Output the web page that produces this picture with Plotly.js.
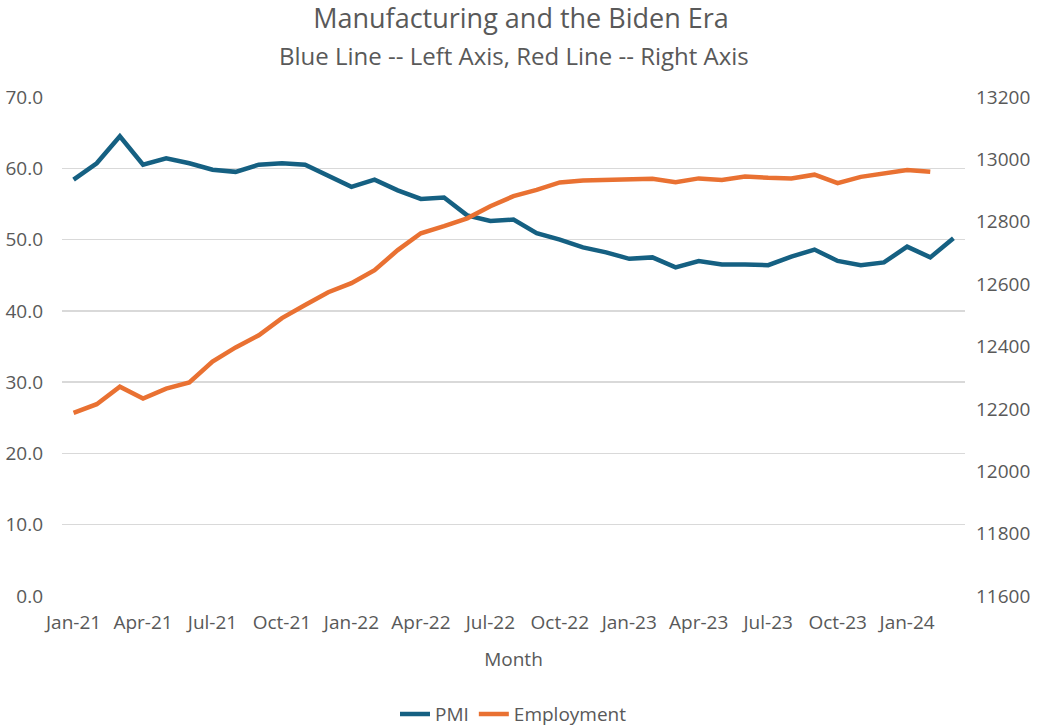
<!DOCTYPE html>
<html>
<head>
<meta charset="utf-8">
<script src="https://cdn.plot.ly/plotly-3.0.1.min.js"></script>
<style>
  html, body { margin: 0; padding: 0; background: #fff; }
  #chart { width: 1042px; height: 728px; }
</style>
</head>
<body>
<div id="chart"></div>
<script>
const months = [
  'Jan-21','Feb-21','Mar-21','Apr-21','May-21','Jun-21','Jul-21','Aug-21','Sep-21','Oct-21','Nov-21','Dec-21',
  'Jan-22','Feb-22','Mar-22','Apr-22','May-22','Jun-22','Jul-22','Aug-22','Sep-22','Oct-22','Nov-22','Dec-22',
  'Jan-23','Feb-23','Mar-23','Apr-23','May-23','Jun-23','Jul-23','Aug-23','Sep-23','Oct-23','Nov-23','Dec-23',
  'Jan-24','Feb-24','Mar-24'
];

// ISM manufacturing PMI, left axis
const pmi = [
  58.4, 60.7, 64.5, 60.5, 61.4, 60.7, 59.8, 59.5, 60.5, 60.7, 60.5, 59.0,
  57.4, 58.4, 56.9, 55.7, 55.9, 53.4, 52.6, 52.8, 50.9, 50.0, 48.9, 48.2,
  47.3, 47.5, 46.1, 47.0, 46.5, 46.5, 46.4, 47.6, 48.6, 47.0, 46.4, 46.8,
  49.0, 47.5, 50.2
];

// manufacturing employment (thousands), right axis - no Mar-24 value
const employment = [
  12187, 12215, 12271, 12233, 12265, 12285, 12352, 12397, 12436, 12491, 12533, 12574,
  12603, 12645, 12709, 12763, 12786, 12811, 12850, 12882, 12902, 12926, 12932, 12934,
  12938, 12938, 12927, 12939, 12934, 12945, 12941, 12939, 12951, 12924, 12944, 12955,
  12966, 12960
];

const textGray = '#595959';
const font = 'Open Sans, Noto Sans, sans-serif';

var pmiTrace = {
  x: months,
  y: pmi,
  name: 'PMI',
  mode: 'lines',
  type: 'scatter',
  line: { color: '#156082', width: 4.5 },
  yaxis: 'y'
};

var empTrace = {
  x: months.slice(0, employment.length),
  y: employment,
  name: 'Employment',
  mode: 'lines',
  type: 'scatter',
  line: { color: '#E97132', width: 4.5 },
  yaxis: 'y2'
};

var layout = {
  width: 1042,
  height: 728,
  margin: { l: 62, r: 77, t: 97, b: 132 },
  paper_bgcolor: '#ffffff',
  plot_bgcolor: '#ffffff',
  font: { family: font, color: textGray, size: 19 },
  title: {
    text: 'Manufacturing and the Biden Era',
    font: { family: font, size: 27, color: textGray },
    x: 0.5,
    xanchor: 'center',
    yref: 'container',
    y: 0.974,
    yanchor: 'middle'
  },
  annotations: [{
    text: 'Blue Line -- Left Axis, Red Line -- Right Axis',
    font: { family: font, size: 24, color: textGray },
    xref: 'paper', yref: 'paper',
    x: 0.5, xanchor: 'center',
    y: 1.084, yanchor: 'middle',
    showarrow: false
  }],
  xaxis: {
    type: 'category',
    range: [-0.5, 38.5],
    tickmode: 'linear',
    tick0: 0,
    dtick: 3,
    automargin: false,
    showgrid: false,
    showline: false,
    zeroline: false,
    ticks: '',
    ticklabelstandoff: 13,
    tickfont: { size: 19, color: textGray },
    title: { text: 'Month', font: { size: 19, color: textGray }, standoff: 18 }
  },
  yaxis: {
    range: [0, 70],
    dtick: 10,
    tickformat: '.1f',
    automargin: false,
    showgrid: true,
    gridcolor: '#d9d9d9',
    gridwidth: 1.3,
    zeroline: false,
    showline: false,
    ticks: '',
    ticklabelstandoff: 18,
    tickfont: { size: 19, color: textGray }
  },
  yaxis2: {
    overlaying: 'y',
    side: 'right',
    range: [11600, 13200],
    dtick: 200,
    tickformat: 'd',
    automargin: false,
    showgrid: false,
    zeroline: false,
    showline: false,
    ticks: '',
    ticklabelstandoff: 10,
    tickfont: { size: 19, color: textGray }
  },
  legend: {
    orientation: 'h',
    x: 0.5,
    xanchor: 'center',
    yref: 'container',
    y: 0.019,
    yanchor: 'middle',
    font: { size: 19, color: textGray },
    itemwidth: 30
  },
  showlegend: true
};

Plotly.newPlot('chart', [pmiTrace, empTrace], layout, { displayModeBar: false, staticPlot: true });
</script>
</body>
</html>
